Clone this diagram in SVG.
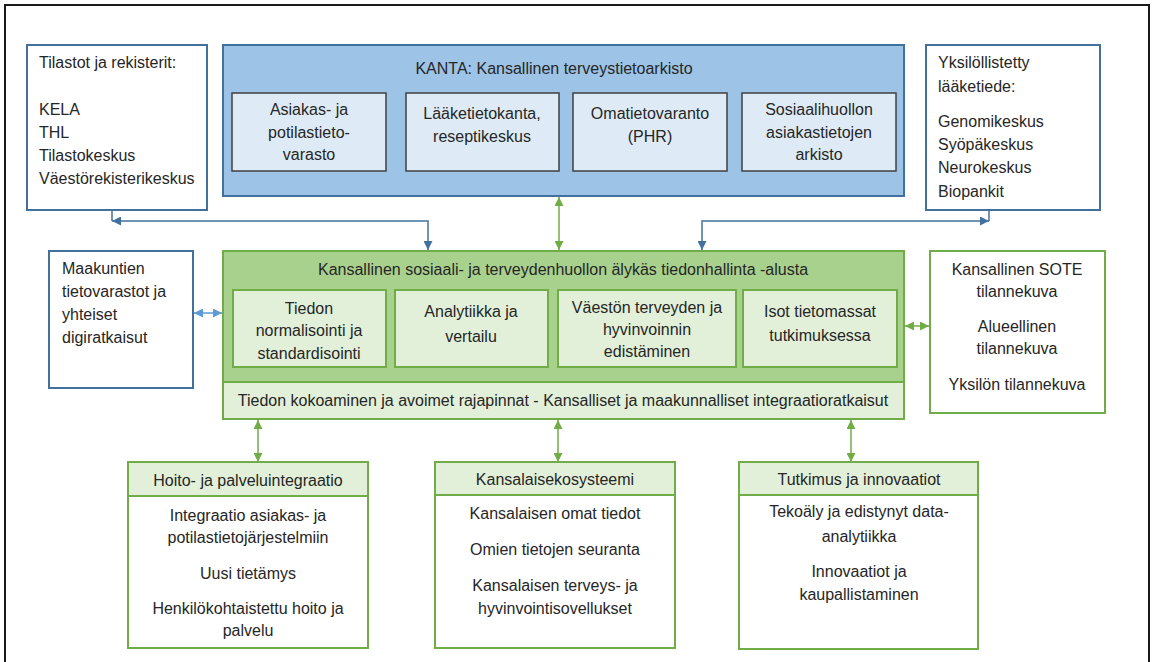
<svg xmlns="http://www.w3.org/2000/svg" width="1153" height="662" viewBox="0 0 1153 662">
  <style>
    text { font-family: "Liberation Sans", Arial, sans-serif; font-size: 16px; fill: #262626; }
    .c { text-anchor: middle; }
    .blueBox { fill: #ffffff; stroke: #41719c; stroke-width: 2; }
    .greenBox { fill: #ffffff; stroke: #70ad47; stroke-width: 2; }
    .kanta { fill: #9dc3e6; stroke: #41719c; stroke-width: 2; }
    .kantaItem { fill: #deebf7; stroke: #404040; stroke-width: 1.5; }
    .platform { fill: #a9d18e; stroke: #70ad47; stroke-width: 2; }
    .lightGreen { fill: #e2f0d9; stroke: #70ad47; stroke-width: 2; }
    .linkBlue { fill: none; stroke: #41719c; stroke-width: 1.5; }
    .linkLightBlue { fill: none; stroke: #5b9bd5; stroke-width: 1.5; }
    .linkGreen { fill: none; stroke: #70ad47; stroke-width: 1.5; }
  </style>
  <defs>
    <marker id="arrBlue" viewBox="0 0 10 10" refX="10" refY="5" markerUnits="userSpaceOnUse" markerWidth="9" markerHeight="9" orient="auto-start-reverse">
      <path d="M0,0 L10,5 L0,10 z" fill="#41719c"/>
    </marker>
    <marker id="arrLightBlue" viewBox="0 0 10 10" refX="10" refY="5" markerUnits="userSpaceOnUse" markerWidth="9" markerHeight="9" orient="auto-start-reverse">
      <path d="M0,0 L10,5 L0,10 z" fill="#5b9bd5"/>
    </marker>
    <marker id="arrGreen" viewBox="0 0 10 10" refX="10" refY="5" markerUnits="userSpaceOnUse" markerWidth="9" markerHeight="9" orient="auto-start-reverse">
      <path d="M0,0 L10,5 L0,10 z" fill="#70ad47"/>
    </marker>
  </defs>

  <rect width="1153" height="662" fill="#ffffff"/>
  <!-- outer frame -->
  <rect x="5" y="5" width="1144" height="700" fill="none" stroke="#1a1a1a" stroke-width="2"/>

  <!-- connectors -->
  <g id="connectors">
    <path class="linkBlue" d="M112,210 V221"/>
    <path class="linkBlue" d="M112,221 H428 V250" marker-start="url(#arrBlue)" marker-end="url(#arrBlue)"/>
    <path class="linkBlue" d="M989,210 V221"/>
    <path class="linkBlue" d="M989,221 H702 V250" marker-start="url(#arrBlue)" marker-end="url(#arrBlue)"/>
    <path class="linkGreen" d="M559,197 V250" marker-start="url(#arrGreen)" marker-end="url(#arrGreen)"/>
    <path class="linkLightBlue" d="M194,313 H222" marker-start="url(#arrLightBlue)" marker-end="url(#arrLightBlue)"/>
    <path class="linkGreen" d="M905,326 H929" marker-start="url(#arrGreen)" marker-end="url(#arrGreen)"/>
    <path class="linkGreen" d="M258,420 V462" marker-start="url(#arrGreen)" marker-end="url(#arrGreen)"/>
    <path class="linkGreen" d="M558,420 V462" marker-start="url(#arrGreen)" marker-end="url(#arrGreen)"/>
    <path class="linkGreen" d="M851,420 V462" marker-start="url(#arrGreen)" marker-end="url(#arrGreen)"/>
  </g>

  <!-- statistics and registers -->
  <g id="registers">
    <rect class="blueBox" x="27" y="45" width="180" height="165"/>
    <text x="39" y="68">Tilastot ja rekisterit:</text>
    <text x="39" y="115">KELA</text>
    <text x="39" y="138">THL</text>
    <text x="39" y="161">Tilastokeskus</text>
    <text x="39" y="184">Väestörekisterikeskus</text>
  </g>

  <!-- national health archive -->
  <g id="kanta">
    <rect class="kanta" x="223" y="45" width="681" height="151"/>
    <text class="c" x="554" y="74">KANTA: Kansallinen terveystietoarkisto</text>
    <rect class="kantaItem" x="232" y="93" width="154" height="78"/>
    <text class="c" x="309" y="115">Asiakas- ja</text>
    <text class="c" x="309" y="138">potilastieto-</text>
    <text class="c" x="309" y="160">varasto</text>
    <rect class="kantaItem" x="406" y="93" width="153" height="78"/>
    <text class="c" x="482" y="119">Lääketietokanta,</text>
    <text class="c" x="482" y="142">reseptikeskus</text>
    <rect class="kantaItem" x="573" y="93" width="154" height="78"/>
    <text class="c" x="650" y="119">Omatietovaranto</text>
    <text class="c" x="650" y="142">(PHR)</text>
    <rect class="kantaItem" x="742" y="93" width="154" height="78"/>
    <text class="c" x="819" y="115">Sosiaalihuollon</text>
    <text class="c" x="819" y="138">asiakastietojen</text>
    <text class="c" x="819" y="160">arkisto</text>
  </g>

  <!-- personalised medicine -->
  <g id="personalised">
    <rect class="blueBox" x="926" y="45" width="174" height="165"/>
    <text x="938" y="68">Yksilöllistetty</text>
    <text x="938" y="92">lääketiede:</text>
    <text x="938" y="127">Genomikeskus</text>
    <text x="938" y="150">Syöpäkeskus</text>
    <text x="938" y="173">Neurokeskus</text>
    <text x="938" y="197">Biopankit</text>
  </g>

  <!-- regional data stores -->
  <g id="regional">
    <rect class="blueBox" x="49" y="251" width="144" height="137"/>
    <text x="62" y="274">Maakuntien</text>
    <text x="62" y="297">tietovarastot ja</text>
    <text x="62" y="320">yhteiset</text>
    <text x="62" y="343">digiratkaisut</text>
  </g>

  <!-- national data management platform -->
  <g id="platform">
    <rect class="platform" x="223" y="251" width="681" height="131"/>
    <text class="c" x="563" y="275">Kansallinen sosiaali- ja terveydenhuollon älykäs tiedonhallinta -alusta</text>
    <rect class="lightGreen" x="233" y="290" width="153" height="77"/>
    <text class="c" x="309" y="314">Tiedon</text>
    <text class="c" x="309" y="336">normalisointi ja</text>
    <text class="c" x="309" y="359">standardisointi</text>
    <rect class="lightGreen" x="395" y="290" width="153" height="77"/>
    <text class="c" x="471" y="317">Analytiikka ja</text>
    <text class="c" x="471" y="342">vertailu</text>
    <rect class="lightGreen" x="558" y="290" width="178" height="77"/>
    <text class="c" x="647" y="313">Väestön terveyden ja</text>
    <text class="c" x="647" y="335">hyvinvoinnin</text>
    <text class="c" x="647" y="357">edistäminen</text>
    <rect class="lightGreen" x="743" y="290" width="154" height="77"/>
    <text class="c" x="820" y="317">Isot tietomassat</text>
    <text class="c" x="820" y="341">tutkimuksessa</text>
  </g>

  <!-- integration layer -->
  <g id="integration">
    <rect class="lightGreen" x="223" y="382" width="681" height="37"/>
    <text class="c" x="563" y="406">Tiedon kokoaminen ja avoimet rajapinnat - Kansalliset ja maakunnalliset integraatioratkaisut</text>
  </g>

  <!-- situational pictures -->
  <g id="situation">
    <rect class="greenBox" x="930" y="251" width="175" height="162"/>
    <text class="c" x="1017" y="275">Kansallinen SOTE</text>
    <text class="c" x="1017" y="297">tilannekuva</text>
    <text class="c" x="1017" y="332">Alueellinen</text>
    <text class="c" x="1017" y="354">tilannekuva</text>
    <text class="c" x="1017" y="390">Yksilön tilannekuva</text>
  </g>

  <!-- care and service integration -->
  <g id="care">
    <rect class="greenBox" x="128" y="462" width="240" height="186"/>
    <rect class="lightGreen" x="128" y="462" width="240" height="34"/>
    <text class="c" x="248" y="486">Hoito- ja palveluintegraatio</text>
    <text class="c" x="248" y="521">Integraatio asiakas- ja</text>
    <text class="c" x="248" y="543">potilastietojärjestelmiin</text>
    <text class="c" x="248" y="579">Uusi tietämys</text>
    <text class="c" x="248" y="614">Henkilökohtaistettu hoito ja</text>
    <text class="c" x="248" y="636">palvelu</text>
  </g>

  <!-- citizen ecosystem -->
  <g id="citizen">
    <rect class="greenBox" x="435" y="462" width="240" height="186"/>
    <rect class="lightGreen" x="435" y="462" width="240" height="33"/>
    <text class="c" x="555" y="485">Kansalaisekosysteemi</text>
    <text class="c" x="555" y="519">Kansalaisen omat tiedot</text>
    <text class="c" x="555" y="555">Omien tietojen seuranta</text>
    <text class="c" x="555" y="591">Kansalaisen terveys- ja</text>
    <text class="c" x="555" y="614">hyvinvointisovellukset</text>
  </g>

  <!-- research and innovation -->
  <g id="research">
    <rect class="greenBox" x="739" y="462" width="239" height="187"/>
    <rect class="lightGreen" x="739" y="462" width="239" height="33"/>
    <text class="c" x="859" y="485">Tutkimus ja innovaatiot</text>
    <text class="c" x="859" y="517">Tekoäly ja edistynyt data-</text>
    <text class="c" x="859" y="542">analytiikka</text>
    <text class="c" x="859" y="577">Innovaatiot ja</text>
    <text class="c" x="859" y="600">kaupallistaminen</text>
  </g>
</svg>
